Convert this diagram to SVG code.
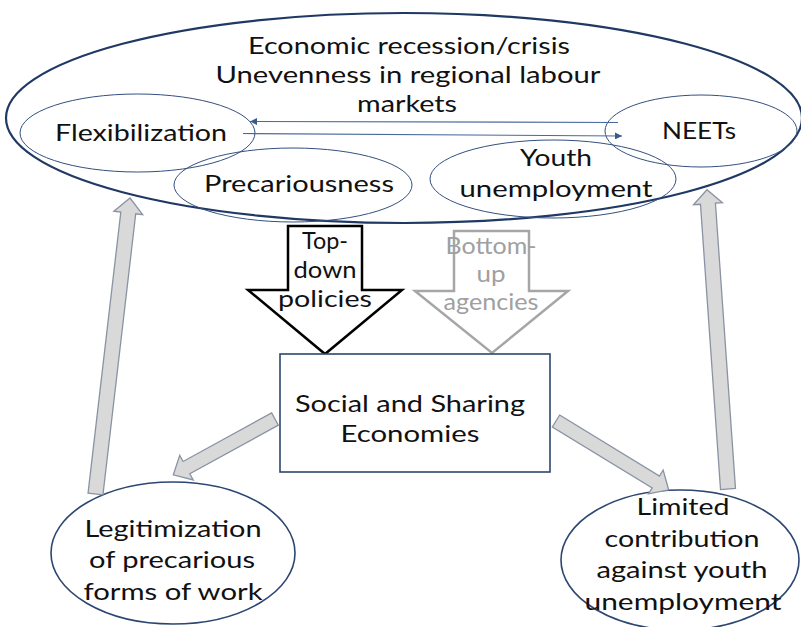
<svg xmlns="http://www.w3.org/2000/svg" width="801" height="627" viewBox="0 0 801 627">
<defs>
<style>
.t{font-family:Lato,"Liberation Sans",sans-serif;font-size:23px;fill:#111;text-anchor:middle}
.g{fill:#a0a0a0}
.thin{fill:none;stroke:#34507f;stroke-width:1}
.mid{fill:none;stroke:#2c4670;stroke-width:1.6}
.blk{fill:#d9d9d9;stroke:#8a93a3;stroke-width:1.3}
.lnk{fill:none;stroke:#4a6a9c;stroke-width:1.2}
</style>
<marker id="ah" viewBox="0 0 8 8" refX="8" refY="4" markerWidth="7" markerHeight="7" markerUnits="userSpaceOnUse" orient="auto">
<path d="M0,0 L8,4 L0,8 z" fill="#3a5a8c"/>
</marker>
</defs>
<rect width="801" height="627" fill="#fff"/>

<g id="context">
<ellipse cx="404" cy="118" rx="398" ry="105" fill="none" stroke="#1f3864" stroke-width="2.2"/>
<text class="t" x="409" y="54" textLength="322" lengthAdjust="spacingAndGlyphs">Economic recession/crisis</text>
<text class="t" x="408" y="83" textLength="385" lengthAdjust="spacingAndGlyphs">Unevenness in regional labour</text>
<text class="t" x="407" y="112" textLength="100" lengthAdjust="spacingAndGlyphs">markets</text>
</g>

<g id="flexibilization">
<ellipse class="thin" cx="137.5" cy="133" rx="117.5" ry="39"/>
<text class="t" x="141" y="141" textLength="172" lengthAdjust="spacingAndGlyphs">Flexibilization</text>
</g>

<g id="neets">
<ellipse class="thin" cx="701" cy="131" rx="96" ry="36"/>
<text class="t" x="699" y="139" textLength="74" lengthAdjust="spacingAndGlyphs">NEETs</text>
</g>

<g id="precariousness">
<ellipse class="thin" cx="293" cy="185" rx="119" ry="37"/>
<text class="t" x="299" y="192" textLength="190" lengthAdjust="spacingAndGlyphs">Precariousness</text>
</g>

<g id="youth-unemployment">
<ellipse class="thin" cx="553" cy="179" rx="123" ry="39"/>
<text class="t" x="556" y="166" textLength="72" lengthAdjust="spacingAndGlyphs">Youth</text>
<text class="t" x="556" y="197" textLength="193" lengthAdjust="spacingAndGlyphs">unemployment</text>
</g>

<g id="top-down-policies">
<polygon points="288,226 362,226 362,290 402,290 325,354 248,290 288,290" fill="#fff" stroke="#000" stroke-width="2.5" stroke-linejoin="miter"/>
<text class="t" x="325" y="249" textLength="46" lengthAdjust="spacingAndGlyphs">Top-</text>
<text class="t" x="325" y="278" textLength="63" lengthAdjust="spacingAndGlyphs">down</text>
<text class="t" x="325" y="307" textLength="94" lengthAdjust="spacingAndGlyphs">policies</text>
</g>

<g id="bottom-up-agencies">
<polygon points="454,231 529,231 529,291 568,291 492,353 415,291 454,291" fill="#fff" stroke="#a6a6a6" stroke-width="2.5"/>
<text class="t g" x="491" y="254" textLength="91" lengthAdjust="spacingAndGlyphs">Bottom-</text>
<text class="t g" x="491" y="282" textLength="29" lengthAdjust="spacingAndGlyphs">up</text>
<text class="t g" x="491" y="310" textLength="95" lengthAdjust="spacingAndGlyphs">agencies</text>
</g>

<g id="social-sharing-economies">
<rect x="280" y="354" width="270" height="118" fill="#fff" stroke="#2c4670" stroke-width="1.6"/>
<text class="t" x="410" y="412" textLength="230" lengthAdjust="spacingAndGlyphs">Social and Sharing</text>
<text class="t" x="410" y="442" textLength="139" lengthAdjust="spacingAndGlyphs">Economies</text>
</g>

<g id="legitimization">
<ellipse class="mid" cx="173" cy="553" rx="122" ry="71"/>
<text class="t" x="173" y="537" textLength="177" lengthAdjust="spacingAndGlyphs">Legitimization</text>
<text class="t" x="172" y="568" textLength="166" lengthAdjust="spacingAndGlyphs">of precarious</text>
<text class="t" x="173" y="600" textLength="179" lengthAdjust="spacingAndGlyphs">forms of work</text>
</g>

<g id="limited-contribution">
<ellipse class="mid" cx="680" cy="560" rx="119" ry="70"/>
<text class="t" x="683" y="515" textLength="93" lengthAdjust="spacingAndGlyphs">Limited</text>
<text class="t" x="682" y="547" textLength="155" lengthAdjust="spacingAndGlyphs">contribution</text>
<text class="t" x="682" y="578" textLength="171" lengthAdjust="spacingAndGlyphs">against youth</text>
<text class="t" x="683" y="610" textLength="197" lengthAdjust="spacingAndGlyphs">unemployment</text>
</g>

<g id="connectors">
<line class="lnk" x1="618" y1="122.5" x2="250" y2="121.5" marker-end="url(#ah)"/>
<line class="lnk" x1="243" y1="133.5" x2="622" y2="136" marker-end="url(#ah)"/>
<polygon class="blk" transform="translate(95.5,494) rotate(-83.35)" points="0,-7.5 283,-7.5 283,-14.5 298,0 283,14.5 283,7.5 0,7.5"/>
<polygon class="blk" transform="translate(728,489) rotate(-94.02)" points="0,-7.5 286,-7.5 286,-14.5 300,0 286,14.5 286,7.5 0,7.5"/>
<polygon class="blk" transform="translate(275,419) rotate(151.23)" points="0,-7 101,-7 101,-14 116,0 101,14 101,7 0,7"/>
<polygon class="blk" transform="translate(556,421) rotate(31.41)" points="0,-7 117,-7 117,-14 132,0 117,14 117,7 0,7"/>
</g>
</svg>
